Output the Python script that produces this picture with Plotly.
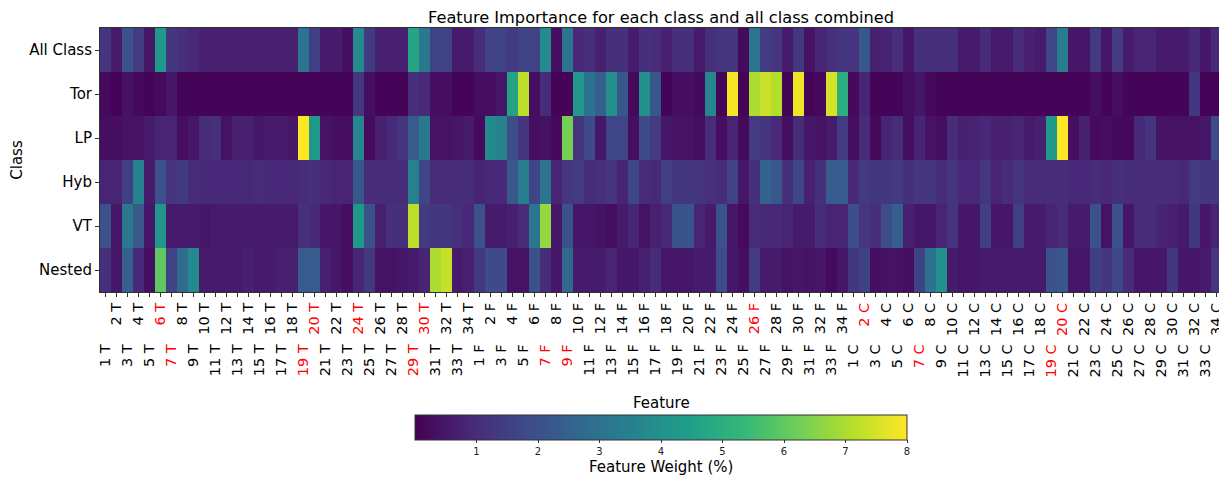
import plotly.graph_objects as go

# --- data ---
classes = ["All Class", "Tor", "LP", "Hyb", "VT", "Nested"]
groups = ["T", "F", "C"]
features = [f"{n} {g}" for g in groups for n in range(1, 35)]
highlighted = ["6 T", "7 T", "19 T", "20 T", "24 T", "29 T", "30 T",
               "7 F", "9 F", "26 F", "2 C", "7 C", "19 C", "20 C"]

all_class = [1.2, 0.6, 2.0, 1.4, 0.5, 4.3, 1.3, 1.1, 0.9, 0.7, 0.7, 0.7, 0.7, 0.7, 0.7, 0.7, 0.7,
             0.7, 3.0, 1.5, 0.6, 0.6, 0.3, 3.8, 1.4, 0.7, 0.7, 0.7, 4.7, 3.2, 1.6, 1.6, 0.6, 0.6,
             1.0, 1.6, 1.6, 1.4, 1.6, 1.6, 3.8, 0.3, 3.1, 0.9, 1.1, 0.7, 1.1, 1.1, 0.6, 1.1, 1.0,
             0.7, 1.1, 1.1, 0.6, 1.1, 1.2, 1.2, 0.2, 3.1, 1.4, 1.2, 0.6, 1.3, 0.4, 0.8, 1.1, 1.2,
             1.2, 2.2, 0.7, 0.8, 1.1, 0.5, 1.1, 1.1, 1.1, 1.1, 0.6, 0.6, 1.0, 0.6, 0.6, 1.0, 0.7,
             0.6, 1.7, 3.3, 0.5, 0.5, 1.4, 0.5, 1.4, 0.6, 0.8, 0.8, 0.6, 0.6, 0.6, 0.9, 0.5, 0.9]
tor = [0.2, 0.05, 0.4, 0.2, 0.1, 0.2, 0.5, 0.1, 0.1, 0.1, 0.1, 0.1, 0.1, 0.1, 0.1, 0.1, 0.1,
       0.1, 0.1, 0.1, 0.1, 0.1, 0.1, 1.3, 0.3, 0.1, 0.1, 0.1, 1.1, 0.9, 0.3, 0.3, 0.1, 0.1,
       0.3, 0.3, 0.5, 4.6, 7.2, 0.3, 1.0, 0.1, 0.1, 4.2, 3.0, 2.4, 4.0, 2.2, 0.2, 4.0, 2.2,
       0.1, 0.3, 0.3, 0.2, 3.7, 0.1, 7.9, 0.1, 7.0, 7.4, 7.1, 0.1, 7.8, 0.1, 0.2, 7.5, 5.0,
       0.2, 0.8, 0.1, 0.1, 0.1, 0.3, 0.5, 0.2, 0.1, 0.1, 0.1, 0.1, 0.1, 0.1, 0.1, 0.1, 0.1,
       0.1, 0.1, 0.1, 0.1, 0.1, 0.3, 0.1, 0.3, 0.1, 0.1, 0.05, 0.05, 0.1, 0.1, 1.3, 0.05, 0.05]
lp = [0.3, 0.3, 0.4, 0.4, 0.6, 0.8, 0.8, 0.3, 0.5, 1.0, 1.1, 0.4, 0.7, 0.7, 0.5, 0.6, 0.6,
      0.5, 8.0, 4.3, 0.4, 0.3, 0.3, 3.7, 0.2, 0.7, 0.9, 1.2, 2.3, 3.2, 0.4, 0.4, 0.5, 0.6,
      0.2, 3.8, 3.6, 1.9, 1.2, 0.3, 0.4, 0.2, 6.3, 1.2, 1.8, 0.5, 1.7, 1.7, 0.3, 1.8, 1.4,
      0.5, 0.4, 0.4, 0.3, 1.0, 0.3, 0.8, 0.2, 1.4, 1.2, 0.9, 0.3, 1.0, 0.5, 0.4, 0.6, 1.4,
      0.3, 1.0, 0.2, 0.8, 1.0, 0.3, 0.8, 0.4, 0.3, 1.0, 0.7, 0.8, 0.9, 0.7, 0.7, 0.8, 0.6,
      0.7, 4.3, 8.0, 0.3, 0.7, 0.2, 0.3, 0.2, 0.2, 0.9, 1.2, 0.4, 0.4, 0.4, 0.4, 0.5, 1.8]
hyb = [0.8, 0.8, 1.5, 3.5, 0.6, 2.0, 1.2, 1.4, 1.0, 0.9, 0.9, 0.9, 0.9, 0.9, 1.0, 0.9, 0.9,
       0.9, 1.0, 1.1, 0.9, 0.8, 0.8, 2.2, 1.0, 1.0, 1.0, 1.0, 3.5, 1.7, 1.0, 1.0, 1.0, 1.0,
       0.8, 0.9, 0.9, 2.2, 3.3, 1.7, 3.1, 0.8, 1.3, 1.4, 1.0, 1.1, 1.2, 0.8, 1.7, 1.0, 0.9,
       1.5, 1.3, 1.3, 1.2, 1.1, 1.0, 1.6, 0.5, 1.1, 2.5, 2.2, 1.1, 1.7, 0.7, 1.1, 2.3, 2.3,
       0.9, 1.4, 1.3, 1.3, 1.4, 1.1, 1.2, 1.3, 1.0, 1.2, 0.9, 0.9, 1.3, 0.8, 1.0, 1.2, 1.0,
       1.0, 1.0, 1.0, 0.9, 0.9, 1.0, 0.9, 1.1, 1.0, 1.0, 1.0, 1.0, 1.0, 0.9, 1.4, 1.3, 1.3]
vt = [2.0, 0.5, 3.2, 2.2, 0.5, 4.2, 0.6, 0.6, 0.6, 0.5, 0.6, 0.6, 0.6, 0.6, 0.6, 0.6, 0.6,
      0.6, 1.1, 0.9, 0.5, 0.5, 0.3, 4.3, 2.0, 0.7, 1.1, 1.1, 7.2, 1.4, 1.3, 1.3, 1.1, 0.9,
      2.0, 0.6, 0.6, 0.7, 1.0, 3.1, 6.7, 0.5, 2.0, 0.5, 0.5, 0.4, 0.3, 0.6, 0.8, 0.4, 0.7,
      0.9, 2.1, 2.1, 0.8, 0.6, 2.0, 0.5, 0.2, 1.0, 0.9, 0.9, 0.8, 0.6, 0.6, 1.0, 0.8, 0.8,
      1.9, 1.2, 1.1, 1.9, 2.4, 0.7, 0.5, 0.5, 0.8, 1.2, 0.5, 0.5, 1.5, 0.5, 0.5, 1.5, 0.6,
      0.6, 0.8, 1.0, 0.6, 0.6, 2.0, 0.4, 2.0, 0.5, 1.0, 1.0, 0.8, 0.7, 0.6, 1.3, 0.5, 0.8]
nested = [1.1, 0.5, 2.4, 0.9, 0.3, 6.0, 1.6, 2.8, 3.8, 0.6, 0.6, 0.6, 0.6, 0.7, 0.6, 0.6, 0.7,
          0.7, 2.3, 2.3, 0.7, 0.5, 0.3, 0.8, 1.3, 0.4, 0.4, 0.5, 0.6, 0.8, 7.0, 7.3, 0.6, 0.7,
          1.3, 1.8, 1.8, 0.4, 0.4, 2.0, 1.0, 0.5, 2.7, 0.6, 0.6, 0.6, 0.8, 0.5, 0.5, 0.7, 1.0,
          0.5, 0.5, 0.5, 0.6, 0.6, 1.8, 0.5, 0.3, 1.4, 0.6, 0.6, 0.4, 0.5, 0.4, 0.5, 0.2, 0.5,
          1.3, 1.6, 0.3, 0.4, 0.4, 0.3, 1.6, 3.0, 4.0, 0.6, 0.5, 0.5, 0.6, 0.6, 0.6, 0.6, 0.6,
          0.6, 2.0, 2.2, 0.5, 0.5, 1.5, 1.3, 1.7, 1.0, 0.5, 0.5, 0.5, 1.3, 0.5, 0.5, 0.6, 1.2]
cbar_ticks = [1, 2, 3, 4, 5, 6, 7, 8]

z = [all_class, tor, lp, hyb, vt, nested]

# tick labels: red for highlighted, odd numbers pushed down with trailing spaces
ticktext = []
for i, f in enumerate(features):
    t = f"<span style='color:red'>{f}</span>" if f in highlighted else f
    if i % 2 == 0:
        t = t + "\u00a0" * 9
    ticktext.append(t)

fig = go.Figure(go.Heatmap(
    z=z, x=features, y=classes,
    colorscale="Viridis", zmin=0, zmax=8,
    colorbar=dict(
        orientation="h", x=0.5, xanchor="center",
        y=-0.466, yanchor="top", ypad=0, xpad=0,
        len=492, lenmode="pixels", thickness=25,
        outlinewidth=1, outlinecolor="#333",
        tickvals=cbar_ticks, ticks="outside", ticklen=3, tickcolor="#333",
        tickfont=dict(size=10, color="#222"),
    ),
))

# page body has an 8px margin, so the figure is 8px smaller than the window
fig.update_layout(
    width=1219, height=469,
    margin=dict(l=92, r=5, t=20, b=185, autoexpand=False),
    paper_bgcolor="white", plot_bgcolor="white",
    font=dict(family="DejaVu Sans", color="black"),
    title=dict(text="Feature Importance for each class and all class combined",
               x=0.5, xref="paper", xanchor="center", y=0.981, yanchor="middle",
               font=dict(size=16.2, color="black")),
    annotations=[
        dict(text="Feature", x=0.5, y=-0.42, xref="paper", yref="paper",
             xanchor="center", yanchor="middle",
             showarrow=False, font=dict(size=15, color="black")),
        dict(text="Feature Weight (%)", x=0.5, y=-0.664, xref="paper", yref="paper",
             xanchor="center", yanchor="middle",
             showarrow=False, font=dict(size=15, color="black")),
    ],
)
fig.update_xaxes(
    automargin=False,
    tickvals=features, ticktext=ticktext, tickangle=-90,
    tickfont=dict(size=14.5, color="black"),
    ticks="outside", ticklen=4, tickcolor="#333",
    showline=True, linecolor="#333", linewidth=1, mirror=True,
)
fig.update_yaxes(
    automargin=False,
    autorange="reversed",
    title=dict(text="Class", font=dict(size=15, color="black"), standoff=3),
    tickfont=dict(size=15, color="black"),
    ticks="outside", ticklen=4, tickcolor="#333",
    showline=True, linecolor="#333", linewidth=1, mirror=True,
)

fig.write_html("out.html")
